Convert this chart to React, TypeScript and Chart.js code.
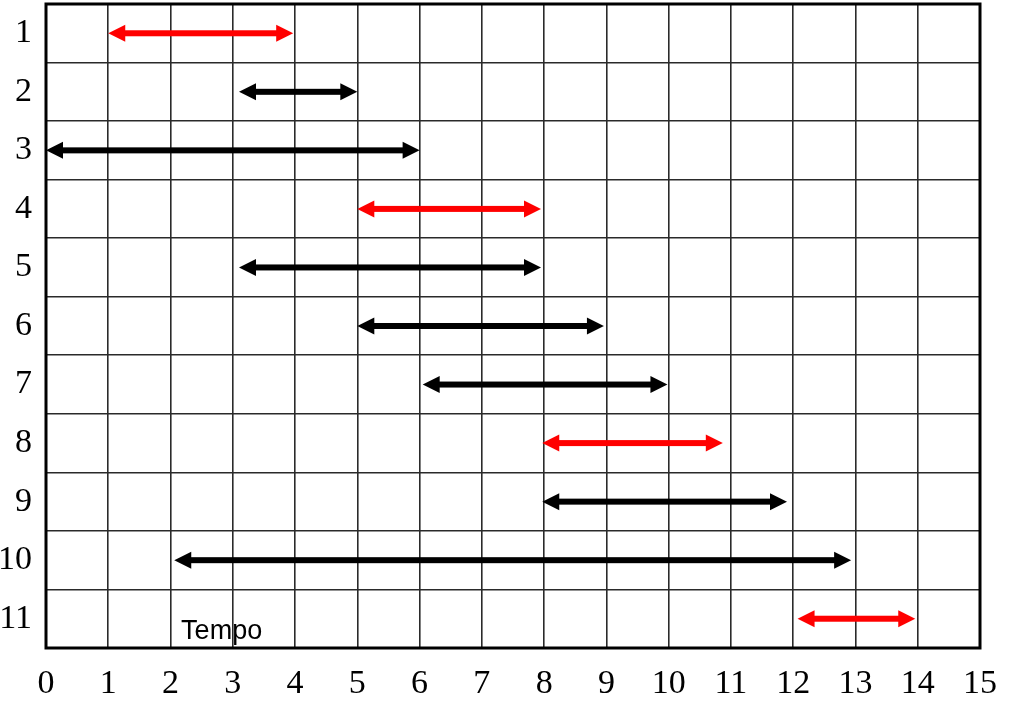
import { useEffect, useRef } from 'react';
import { Chart, registerables } from 'chart.js';

Chart.register(...registerables);

const rowLabels = ['1', '2', '3', '4', '5', '6', '7', '8', '9', '10', '11'];
const startValues = [1, 3.1, 0, 5, 3.1, 5, 6.05, 7.97, 7.97, 2.06, 12.07];
const endValues = [3.97, 5, 6, 7.95, 7.95, 8.96, 9.98, 10.87, 11.9, 12.93, 13.96];
const arrowColors = [
  '#ff0000', '#000000', '#000000', '#ff0000', '#000000', '#000000',
  '#000000', '#ff0000', '#000000', '#000000', '#ff0000',
];
const xMin = 0;
const xMax = 15;
const axisTitle = 'Tempo';
const axisTitleAt = 2.17;

const serif = '"Liberation Serif", "Times New Roman", serif';
const sans = '"Liberation Sans", Arial, sans-serif';

const arrowPlugin = {
  id: 'arrows',
  afterDatasetsDraw(chart: any) {
    const { ctx, scales } = chart;
    const xs = scales.x;
    const ys = scales.y;
    const headLen = 17;
    const headHalf = 8.5;
    const shaft = 6;
    ctx.save();
    rowLabels.forEach((_, i) => {
      const y = ys.getPixelForValue(i);
      const x1 = xs.getPixelForValue(startValues[i]);
      const x2 = xs.getPixelForValue(endValues[i]);
      ctx.fillStyle = arrowColors[i];
      ctx.fillRect(x1 + headLen - 1, y - shaft / 2, x2 - x1 - 2 * headLen + 2, shaft);
      ctx.beginPath();
      ctx.moveTo(x1, y);
      ctx.lineTo(x1 + headLen, y - headHalf);
      ctx.lineTo(x1 + headLen, y + headHalf);
      ctx.closePath();
      ctx.fill();
      ctx.beginPath();
      ctx.moveTo(x2, y);
      ctx.lineTo(x2 - headLen, y - headHalf);
      ctx.lineTo(x2 - headLen, y + headHalf);
      ctx.closePath();
      ctx.fill();
    });
    // axis title inside the plot
    const bottomRow = ys.getPixelForValue(rowLabels.length - 1);
    ctx.fillStyle = '#000000';
    ctx.font = `27px ${sans}`;
    ctx.textAlign = 'left';
    ctx.textBaseline = 'alphabetic';
    ctx.fillText(axisTitle, xs.getPixelForValue(axisTitleAt), bottomRow + 20);
    // frame
    const a = chart.chartArea;
    ctx.strokeStyle = '#000000';
    ctx.lineWidth = 3;
    ctx.strokeRect(a.left, a.top, a.right - a.left, a.bottom - a.top);
    ctx.restore();
  },
};

export default function App() {
  const ref = useRef<HTMLCanvasElement | null>(null);
  useEffect(() => {
    if (!ref.current) return;
    const chart = new Chart(ref.current, {
      type: 'line',
      data: {
        labels: rowLabels,
        datasets: rowLabels.map((lab, i) => ({
          label: lab,
          data: [
            { x: startValues[i], y: lab },
            { x: endValues[i], y: lab },
          ],
          showLine: false,
          pointRadius: 0,
          borderColor: arrowColors[i],
          backgroundColor: arrowColors[i],
        })),
      } as any,
      options: {
        animation: false,
        responsive: false,
        maintainAspectRatio: false,
        layout: { padding: { top: 4, right: 34, left: 0, bottom: 0 } },
        plugins: { legend: { display: false }, tooltip: { enabled: false } },
        scales: {
          x: {
            type: 'linear',
            min: xMin,
            max: xMax,
            border: { display: false },
            grid: { color: '#2a2a2a', lineWidth: 1.6, drawTicks: false },
            ticks: {
              stepSize: 1,
              autoSkip: false,
              maxRotation: 0,
              padding: 16,
              color: '#000000',
              font: { family: serif, size: 34 },
            },
            afterFit(scale: any) {
              scale.height = 54;
              scale.paddingLeft = 0;
              scale.paddingRight = 0;
            },
          },
          y: {
            type: 'category',
            labels: rowLabels,
            offset: true,
            border: { display: false },
            grid: { offset: true, color: '#2a2a2a', lineWidth: 1.6, drawTicks: false },
            ticks: {
              padding: 14,
              color: '#000000',
              font: { family: serif, size: 34 },
            },
            afterFit(scale: any) {
              scale.width = 46;
              scale.paddingTop = 0;
              scale.paddingBottom = 0;
            },
          },
        },
      } as any,
      plugins: [arrowPlugin],
    });
    return () => chart.destroy();
  }, []);
  return (
    <div style={{ position: 'absolute', left: 0, top: 0, width: 1014, height: 702, background: '#ffffff' }}>
      <canvas ref={ref} width={1014} height={702} style={{ display: 'block' }} />
    </div>
  );
}
